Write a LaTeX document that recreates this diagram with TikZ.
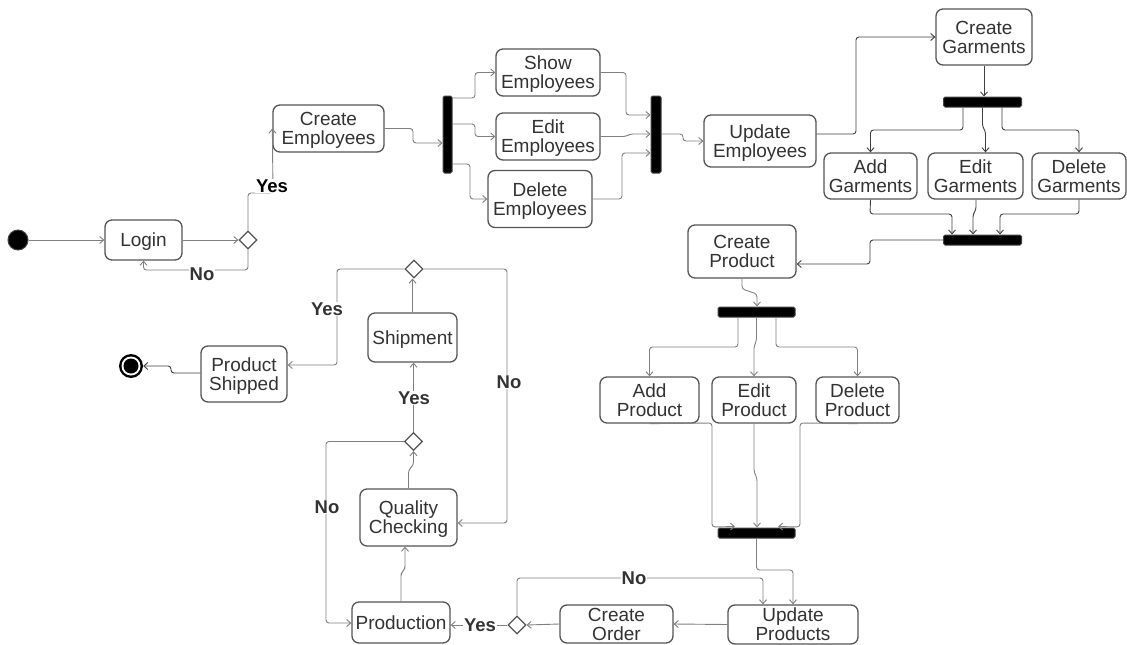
\documentclass[tikz,border=0pt]{standalone}
\usepackage{fontspec}
\setmainfont{Liberation Sans}
\usetikzlibrary{arrows.meta,shapes.geometric}
\definecolor{boxline}{HTML}{555555}
\definecolor{textc}{HTML}{333333}
\definecolor{linegray}{HTML}{808080}
\definecolor{linedark}{HTML}{404040}
\definecolor{barline}{HTML}{444444}
\tikzset{
  box/.style={draw=boxline, line width=1.3pt, rounded corners=7pt, fill=white,
    align=center, inner sep=0pt, text depth=0pt, text=textc,
    font=\fontsize{19}{19}\selectfont},
  bar/.style={draw=barline, fill=black, line width=1pt, rounded corners=1.5pt, inner sep=0pt},
  decision/.style={diamond, draw=boxline, line width=1.2pt, fill=white, inner sep=0pt,
    minimum width=18pt, minimum height=18pt},
  conn/.style={draw=linegray, line width=0.9pt, rounded corners=3pt,
    -{Straight Barb[length=4pt,width=7pt]}},
  connd/.style={conn, draw=linedark},
  guard/.style={fill=white, inner sep=1pt, text=textc,
    font=\fontsize{18.5}{18.5}\selectfont\bfseries},
}
\begin{document}
\begin{tikzpicture}[x=1pt, y=-1pt]
\useasboundingbox[fill=white] (0,0) rectangle (1127,645);

% start and end markers
\node[circle, fill=black, draw=barline, line width=1pt, minimum size=20pt, inner sep=0pt] (start) at (18,240) {};
\node[circle, fill=black, minimum size=24pt, inner sep=0pt] (end) at (131,366) {};
\node[circle, fill=white, minimum size=19pt, inner sep=0pt] (endring) at (131,366) {};
\node[circle, fill=black, minimum size=15pt, inner sep=0pt] (enddot) at (131,366) {};

% activities
\node[box, minimum width=77pt, minimum height=40pt] (login) at (143.5,240) {Login};
\node[box, minimum width=111pt, minimum height=47pt] (ce) at (328.5,128.5) {Create\\Employees};
\node[box, minimum width=104pt, minimum height=47pt] (show) at (548,72.5) {Show\\Employees};
\node[box, minimum width=104pt, minimum height=47pt] (ee) at (548,136.5) {Edit\\Employees};
\node[box, minimum width=104pt, minimum height=57pt] (de) at (540,199) {Delete\\Employees};
\node[box, minimum width=112pt, minimum height=52pt] (ue) at (760,141) {Update\\Employees};
\node[box, minimum width=96pt, minimum height=56pt] (cg) at (984,37) {Create\\Garments};
\node[box, minimum width=93pt, minimum height=46pt] (ag) at (870.5,176) {Add\\Garments};
\node[box, minimum width=95pt, minimum height=46pt] (eg) at (975.5,176) {Edit\\Garments};
\node[box, minimum width=94pt, minimum height=46pt] (dg) at (1079,176) {Delete\\Garments};
\node[box, minimum width=108pt, minimum height=53pt] (cp) at (742,251.5) {Create\\Product};
\node[box, minimum width=99pt, minimum height=46pt] (ap) at (649.5,400) {Add\\Product};
\node[box, minimum width=84pt, minimum height=46pt] (ep) at (754,400) {Edit\\Product};
\node[box, minimum width=83pt, minimum height=46pt] (dp) at (857.5,400) {Delete\\Product};
\node[box, minimum width=130pt, minimum height=39pt] (up) at (793,624.5) {Update\\Products};
\node[box, minimum width=113pt, minimum height=38pt] (co) at (616.5,624) {Create\\Order};
\node[box, minimum width=98pt, minimum height=41pt] (prod) at (401,622.5) {Production};
\node[box, minimum width=97pt, minimum height=57pt] (qc) at (408.5,517.5) {Quality\\Checking};
\node[box, minimum width=89pt, minimum height=49pt] (ship) at (412.5,337.5) {Shipment};
\node[box, minimum width=86pt, minimum height=56pt] (ps) at (244,374) {Product\\Shipped};

% fork and join bars
\node[bar, minimum width=9pt, minimum height=77pt] (f1) at (447.5,134.5) {};
\node[bar, minimum width=10pt, minimum height=77pt] (j2) at (656,134.5) {};
\node[bar, minimum width=78pt, minimum height=10pt] (f3) at (982.5,102) {};
\node[bar, minimum width=78pt, minimum height=10pt] (j4) at (982.5,240) {};
\node[bar, minimum width=77pt, minimum height=10pt] (f5) at (756.5,312) {};
\node[bar, minimum width=77pt, minimum height=10pt] (j6) at (756.5,533) {};

% decisions
\node[decision] (d1) at (248,240) {};
\node[decision] (d4) at (414,269) {};
\node[decision] (d2) at (413.5,441.5) {};
\node[decision] (d3) at (517,625) {};

% login and employees
\draw[conn] (start) -- (login);
\draw[conn] (login) -- (d1);
\draw[conn] (d1.north) -- (248,193) -- (273,193) -- (ce.west);
\draw[conn] (d1.south) -- (248,270) -| (login.south);
\draw[conn] (ce.east) -- (413,128.5) -- (413,143) -- (f1.west |- 0,143);
\draw[conn] (f1.east |- 0,98) -- (475,98) -- (475,72.5) -- (show.west);
\draw[conn] (f1.east |- 0,124) -- (475,124) -- (475,136.5) -- (ee.west);
\draw[conn] (f1.east |- 0,164) -- (470,164) -- (470,199) -- (de.west);
\draw[conn] (show.east) -- (626,72.5) -- (626,115) -- (j2.west |- 0,115);
\draw[conn] (ee.east) -- (626,136.5) -- (630,134) -- (j2.west |- 0,134);
\draw[conn] (de.east) -- (622,199) -- (622,153) -- (j2.west |- 0,153);
\draw[conn] (j2.east |- 0,134) -- (683,134) -- (683,141) -- (ue.west);

% garments
\draw[connd] (ue.east |- 0,134) -- (856,134) -- (856,37) -- (cg.west);
\draw[connd] (cg.south) -- (cg.south |- f3.north);
\draw[connd] (f3.south -| 963,0) -- (963,130) -| (ag.north);
\draw[connd] (f3.south) -- (982.5,127) -- (985.5,131) -- (eg.north -| 985.5,0);
\draw[connd] (f3.south -| 1002,0) -- (1002,130) -| (dg.north);
\draw[connd] (ag.south) -- (870,214) -- (952,214) -- (j4.north -| 952,0);
\draw[connd] (eg.south -| 976,0) -- (976,210) -- (973,214) -- (j4.north -| 973,0);
\draw[connd] (dg.south) -- (1079,214) -- (1000,214) -- (j4.north -| 1000,0);
\draw[connd] (j4.west) -- (870,240) -- (870,264) -- (cp.east |- 0,264);

% products
\draw[conn] (cp.south) -- (742,289) -- (757,294) -- (f5.north -| 757,0);
\draw[conn] (f5.south -| 738,0) -- (738,347) -| (ap.north);
\draw[conn] (f5.south) -- (756.5,341) -- (754,346) -- (ep.north);
\draw[conn] (f5.south -| 776,0) -- (776,347) -| (dp.north);
\draw[conn] (ap.south) -- (712,423) -- (712,527) -- ([yshift=1pt]j6.north -| 735,0);
\draw[conn] (ep.south) -- (754,472) -- (757,478) -- (j6.north -| 757,0);
\draw[conn] (dp.south) -- (800,423) -- (800,527) -- ([yshift=1pt]j6.north -| 778,0);
\draw[conn] (j6.south) -- (756.5,570) -- (793,570) -- (up.north);

% orders, production and shipping
\draw[conn] (up.west) -- (co.east);
\draw[conn] (co.west) -- (d3.east);
\draw[conn] (d3.north) -- (517,578) -- (763,578) -- (up.north -| 763,0);
\draw[conn] (d3.west) -- (prod.east |- d3.west);
\draw[conn] (prod.north) -- (401,573) -- (405,569) -- (qc.south -| 405,0);
\draw[conn] (qc.north) -- (408.5,470) -- (413.5,465) -- (d2.south);
\draw[conn] (d2.north) -- (ship.south -| d2.north);
\draw[conn] (d2.west) -- (326,441.5) -- (326,623) -- (prod.west |- 0,623);
\draw[conn] (ship.north) -- (ship.north |- d4.south);
\draw[conn] (d4.west) -- (337,269) -- (337,365) -- (ps.east |- 0,365);
\draw[conn] (d4.east) -- (507,269) -- (507,523) -- (qc.east |- 0,523);
\draw[connd] (ps.west |- 0,373) -- (171,373) -- (171,366) -- (end);

% guard labels
\node[guard, text=black] (gyes1) at (272,186) {Yes};
\node[guard] (gno1) at (202,274) {No};
\node[guard] (gyes2) at (327,309) {Yes};
\node[guard] (gno2) at (509,382) {No};
\node[guard] (gyes3) at (414,398) {Yes};
\node[guard] (gno3) at (327,507) {No};
\node[guard] (gno4) at (634,578) {No};
\node[guard] (gyes4) at (480,625) {Yes};
\end{tikzpicture}
\end{document}
